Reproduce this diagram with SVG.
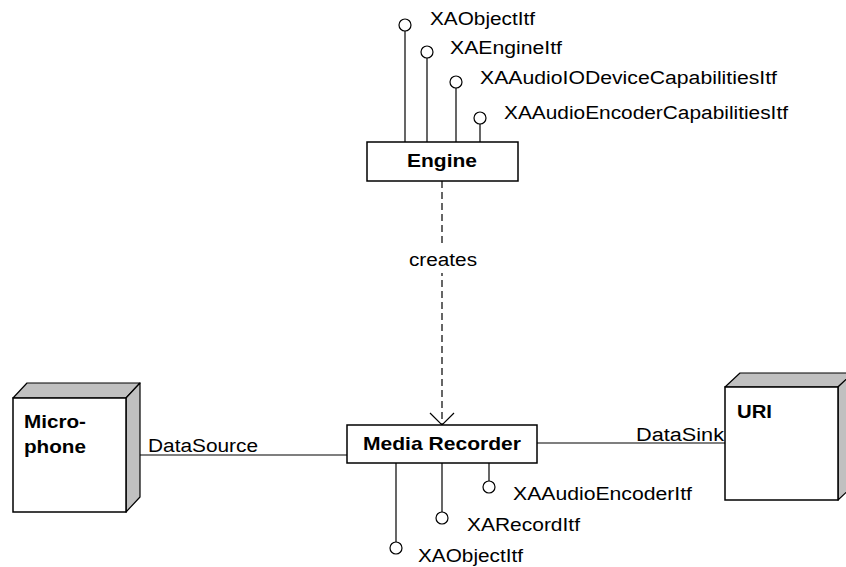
<svg xmlns="http://www.w3.org/2000/svg" width="846" height="567" viewBox="0 0 846 567">
<style>
.t{font-family:"Liberation Sans",Arial,sans-serif;font-size:18px;fill:#000}
.b{font-family:"Liberation Sans",Arial,sans-serif;font-size:19px;font-weight:bold;fill:#000}
.box{fill:#fff;stroke:#000;stroke-width:1.5}
.ln{stroke:#000;stroke-width:1.2;fill:none}
.lol{fill:#fff;stroke:#000;stroke-width:1.2}
.side{fill:#c0c0c0;stroke:#000;stroke-width:1.2;stroke-linejoin:round}
</style>
<rect width="846" height="567" fill="#fff"/>
<g id="connectors">
  <line class="ln" x1="442" y1="181" x2="442" y2="424" stroke-dasharray="7,4"/>
  <rect x="405" y="247" width="76" height="26" fill="#fff"/>
  <text class="t" x="409" y="266" textLength="68" lengthAdjust="spacingAndGlyphs">creates</text>
  <polyline class="ln" points="430,413 442,425 454,413"/>
  <line class="ln" x1="140" y1="455" x2="347" y2="455"/>
  <text class="t" x="148" y="452" textLength="110" lengthAdjust="spacingAndGlyphs">DataSource</text>
  <line class="ln" x1="537" y1="443" x2="725" y2="443"/>
  <text class="t" x="636" y="441" textLength="88" lengthAdjust="spacingAndGlyphs">DataSink</text>
</g>
<g id="engine">
  <line class="ln" x1="405" y1="31" x2="405" y2="142"/>
  <circle class="lol" cx="405" cy="25" r="6"/>
  <text class="t" x="430" y="25" textLength="105" lengthAdjust="spacingAndGlyphs">XAObjectItf</text>
  <line class="ln" x1="427" y1="58" x2="427" y2="142"/>
  <circle class="lol" cx="427" cy="52" r="6"/>
  <text class="t" x="450" y="54" textLength="112" lengthAdjust="spacingAndGlyphs">XAEngineItf</text>
  <line class="ln" x1="456" y1="88" x2="456" y2="142"/>
  <circle class="lol" cx="456" cy="82" r="6"/>
  <text class="t" x="480" y="84" textLength="297" lengthAdjust="spacingAndGlyphs">XAAudioIODeviceCapabilitiesItf</text>
  <line class="ln" x1="480" y1="124" x2="480" y2="142"/>
  <circle class="lol" cx="480" cy="118" r="6"/>
  <text class="t" x="504" y="119" textLength="284" lengthAdjust="spacingAndGlyphs">XAAudioEncoderCapabilitiesItf</text>
  <rect class="box" x="367" y="142" width="151" height="39"/>
  <text class="b" x="407" y="167" textLength="70" lengthAdjust="spacingAndGlyphs">Engine</text>
</g>
<g id="media-recorder">
  <line class="ln" x1="396" y1="463" x2="396" y2="542"/>
  <circle class="lol" cx="396" cy="548" r="6"/>
  <text class="t" x="418" y="562" textLength="105" lengthAdjust="spacingAndGlyphs">XAObjectItf</text>
  <line class="ln" x1="442" y1="463" x2="442" y2="512"/>
  <circle class="lol" cx="442" cy="518" r="6"/>
  <text class="t" x="467" y="531" textLength="113" lengthAdjust="spacingAndGlyphs">XARecordItf</text>
  <line class="ln" x1="489" y1="463" x2="489" y2="481"/>
  <circle class="lol" cx="489" cy="487" r="6"/>
  <text class="t" x="513" y="500" textLength="179" lengthAdjust="spacingAndGlyphs">XAAudioEncoderItf</text>
  <rect class="box" x="347" y="425" width="190" height="38"/>
  <text class="b" x="363" y="450" textLength="158" lengthAdjust="spacingAndGlyphs">Media Recorder</text>
</g>
<g id="microphone">
  <polygon class="side" points="13,398 27,383 140,383 126,398"/>
  <polygon class="side" points="126,398 140,383 140,497 126,512"/>
  <rect class="box" x="13" y="398" width="113" height="114" stroke-width="1.2"/>
  <text class="b" x="24" y="428" textLength="62" lengthAdjust="spacingAndGlyphs">Micro-</text>
  <text class="b" x="24" y="453" textLength="62" lengthAdjust="spacingAndGlyphs">phone</text>
</g>
<g id="uri">
  <polygon class="side" points="725,387 740,373 853,373 838,387"/>
  <polygon class="side" points="838,387 853,373 853,486 838,500"/>
  <rect class="box" x="725" y="387" width="113" height="113" stroke-width="1.2"/>
  <text class="b" x="737" y="418" textLength="35" lengthAdjust="spacingAndGlyphs">URI</text>
</g>
</svg>
